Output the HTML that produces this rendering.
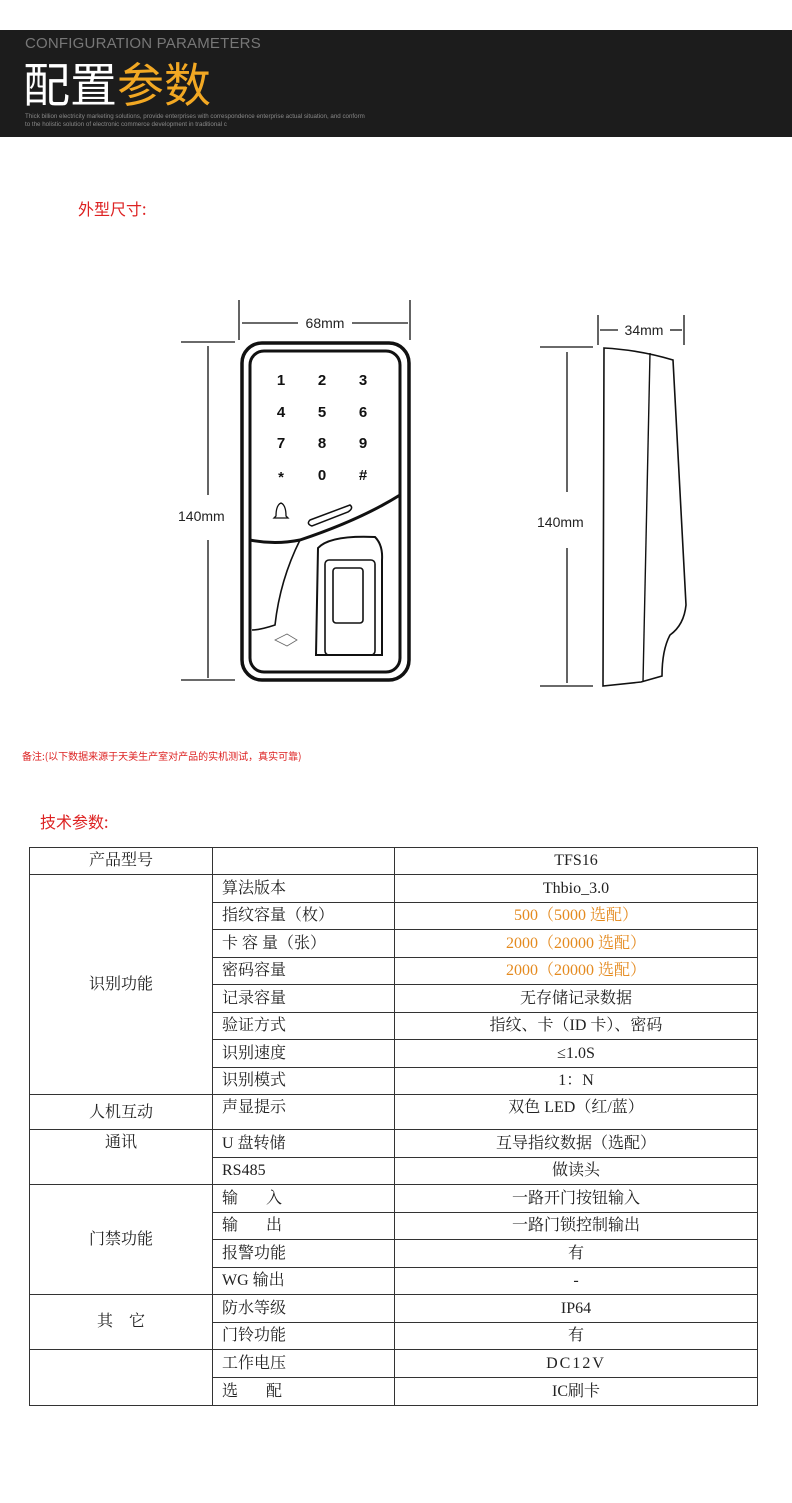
<!DOCTYPE html>
<html><head><meta charset="utf-8"><style>
body{margin:0;width:792px;height:1503px;background:#fff;position:relative;overflow:hidden;font-family:"Liberation Sans","Noto Sans CJK SC",sans-serif}
.hdr{position:absolute;left:0;top:30px;width:792px;height:107px;background:#1c1c1c}
.abs{position:absolute;white-space:nowrap}
table{position:absolute;left:29px;top:847px;border-collapse:collapse;font-family:"Liberation Serif","Noto Serif CJK SC",serif;font-size:16px;color:#222}
td{border:1px solid #333;padding:0;height:26px;line-height:26px}
tr.t td{height:27px}
td.c{text-align:center}
td.l{padding-left:9px}
.o{color:#e48a1f}
</style></head><body>
<div class="hdr"></div>
<div class="abs" style="left:25px;top:35px;font-size:15px;color:#777;letter-spacing:0.2px">CONFIGURATION PARAMETERS</div>
<div class="abs" style="left:23px;top:54px;font-size:47px;line-height:56px;color:#fff;font-family:'Noto Sans CJK SC',sans-serif">配置<span style="color:#f2a823">参数</span></div>
<div class="abs" style="left:25px;top:113px;font-size:6.2px;line-height:8px;color:#888">Thick billion electricity marketing solutions, provide enterprises with correspondence enterprise actual situation, and conform<br>to the holistic solution of electronic commerce development in traditional c</div>
<div class="abs" style="left:78px;top:196px;font-size:16px;color:#d22;font-family:'Noto Sans CJK SC',sans-serif">外型尺寸:</div>
<svg class="abs" style="left:0;top:0" width="792" height="720" fill="none" stroke="#111">
<g stroke-width="1.3">
<line x1="239" y1="300" x2="239" y2="340"/><line x1="410" y1="300" x2="410" y2="340"/>
<line x1="242" y1="323" x2="298" y2="323"/><line x1="352" y1="323" x2="408" y2="323"/>
<line x1="181" y1="342" x2="235" y2="342"/><line x1="181" y1="680" x2="235" y2="680"/>
<line x1="208" y1="346" x2="208" y2="495"/><line x1="208" y1="540" x2="208" y2="678"/>
<line x1="598" y1="315" x2="598" y2="345"/><line x1="684" y1="315" x2="684" y2="345"/>
<line x1="600" y1="330" x2="618" y2="330"/><line x1="670" y1="330" x2="682" y2="330"/>
<line x1="540" y1="347" x2="593" y2="347"/><line x1="540" y1="686" x2="593" y2="686"/>
<line x1="567" y1="352" x2="567" y2="492"/><line x1="567" y1="548" x2="567" y2="683"/>
</g>
<path d="M604 348 Q640 350 673 360 L686 605 Q684 625 670 635 Q662 650 662 676 L641 682 L603 686 Z" stroke-width="1.6"/>
<path d="M650 353 L643 682" stroke-width="1.4"/>
<rect x="242" y="343" width="167" height="337" rx="20" stroke-width="3.5"/>
<rect x="250" y="351" width="150" height="321" rx="14" stroke-width="3"/>
<path d="M250 540 Q275 545 300 540 Q360 520 400 495" stroke-width="3"/>
<path d="M300 540 Q280 580 275 625 Q260 630 252 630" stroke-width="1.6"/>
<path d="M310 520 L350 505 Q354 508 348 512 L312 526 Q306 524 310 520Z" stroke-width="1.5"/>
<path d="M318 548 Q330 535 375 537 Q383 545 382 560 L382 655 L316 655 Z" stroke-width="2"/>
<rect x="325" y="560" width="50" height="95" rx="4" stroke-width="1.6"/>
<rect x="333" y="568" width="30" height="55" rx="3" stroke-width="1.6"/>
<path d="M276 516 Q276 505 281 503 Q286 505 286 516 L288 518 L274 518 Z" stroke-width="1.3"/>
<path d="M275 640 l12 -6 l10 6 l-10 6 Z" stroke-width="0.8" stroke="#666"/>
<g fill="#111" stroke="none" font-family="Liberation Sans" font-weight="bold" font-size="15" text-anchor="middle">
<text x="281" y="385">1</text><text x="322" y="385">2</text><text x="363" y="385">3</text>
<text x="281" y="417">4</text><text x="322" y="417">5</text><text x="363" y="417">6</text>
<text x="281" y="448">7</text><text x="322" y="448">8</text><text x="363" y="448">9</text>
<text x="281" y="482">*</text><text x="322" y="480">0</text><text x="363" y="480">#</text>
</g>
<g fill="#222" stroke="none" font-family="Liberation Sans" font-size="14">
<text x="325" y="328" text-anchor="middle">68mm</text>
<text x="178" y="521">140mm</text>
<text x="644" y="335" text-anchor="middle">34mm</text>
<text x="537" y="527">140mm</text>
</g>
</svg>
<div class="abs" style="left:22px;top:748px;font-size:10px;color:#d22;font-family:'Noto Sans CJK SC',sans-serif">备注:(以下数据来源于天美生产室对产品的实机测试，真实可靠)</div>
<div class="abs" style="left:40px;top:809px;font-size:16px;color:#d22;font-family:'Noto Sans CJK SC',sans-serif">技术参数:</div>
<table>
<colgroup><col style="width:183px"><col style="width:182px"><col style="width:363px"></colgroup>
<tr><td class="c">产品型号</td><td></td><td class="c">TFS16</td></tr>
<tr class="t"><td class="c" rowspan="8">识别功能</td><td class="l">算法版本</td><td class="c">Thbio_3.0</td></tr>
<tr><td class="l">指纹容量（枚）</td><td class="c o">500（5000 选配）</td></tr>
<tr class="t"><td class="l">卡 容 量（张）</td><td class="c o">2000（20000 选配）</td></tr>
<tr><td class="l">密码容量</td><td class="c o">2000（20000 选配）</td></tr>
<tr class="t"><td class="l">记录容量</td><td class="c">无存储记录数据</td></tr>
<tr><td class="l">验证方式</td><td class="c">指纹、卡（ID 卡）、密码</td></tr>
<tr class="t"><td class="l">识别速度</td><td class="c">≤1.0S</td></tr>
<tr><td class="l">识别模式</td><td class="c">1：N</td></tr>
<tr><td class="c" style="height:35px;line-height:24px;vertical-align:top;padding-top:6px;box-sizing:border-box">人机互动</td><td class="l" style="vertical-align:top">声显提示</td><td class="c" style="vertical-align:top">双色 LED（红/蓝）</td></tr>
<tr class="t"><td class="c" rowspan="2" style="vertical-align:top">通讯</td><td class="l">U 盘转储</td><td class="c">互导指纹数据（选配）</td></tr>
<tr><td class="l">RS485</td><td class="c">做读头</td></tr>
<tr class="t"><td class="c" rowspan="4">门禁功能</td><td class="l">输&nbsp;&nbsp;&nbsp;&nbsp;&nbsp;&nbsp;&nbsp;入</td><td class="c">一路开门按钮输入</td></tr>
<tr><td class="l">输&nbsp;&nbsp;&nbsp;&nbsp;&nbsp;&nbsp;&nbsp;出</td><td class="c">一路门锁控制输出</td></tr>
<tr class="t"><td class="l">报警功能</td><td class="c">有</td></tr>
<tr><td class="l">WG 输出</td><td class="c">-</td></tr>
<tr class="t"><td class="c" rowspan="2">其&nbsp;&nbsp;&nbsp;&nbsp;它</td><td class="l">防水等级</td><td class="c">IP64</td></tr>
<tr><td class="l">门铃功能</td><td class="c">有</td></tr>
<tr class="t"><td rowspan="2"></td><td class="l">工作电压</td><td class="c" style="letter-spacing:2px">DC12V</td></tr>
<tr class="t"><td class="l">选&nbsp;&nbsp;&nbsp;&nbsp;&nbsp;&nbsp;&nbsp;配</td><td class="c">IC刷卡</td></tr>
</table>
</body></html>
